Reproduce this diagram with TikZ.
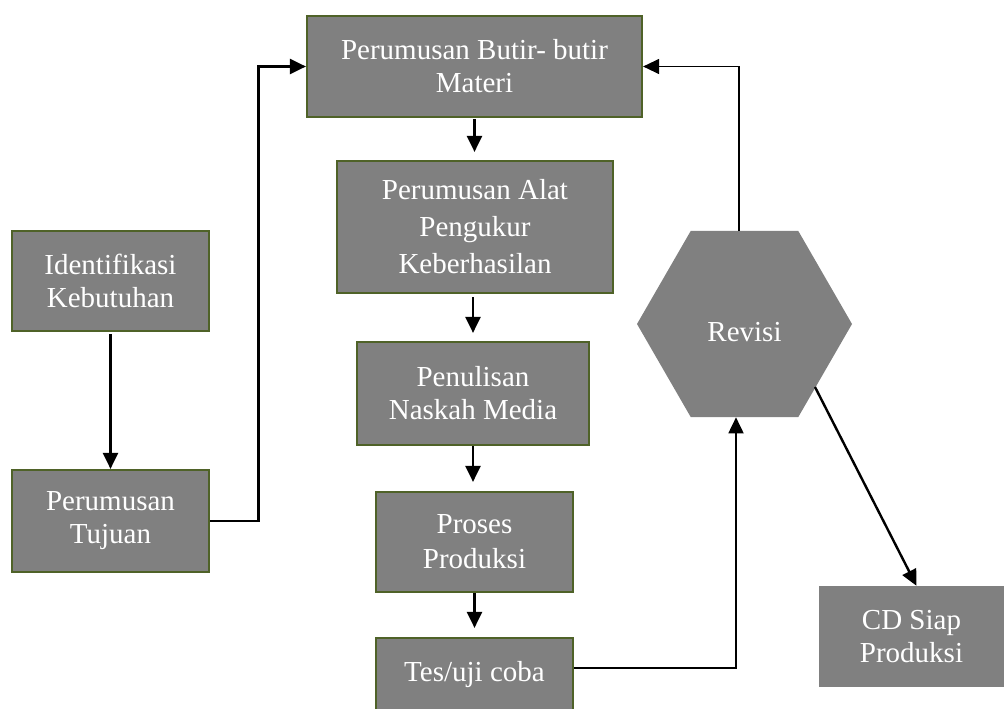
\documentclass[tikz,border=0pt]{standalone}
\usepackage{fontspec}
\setmainfont{Liberation Serif}
\usetikzlibrary{arrows.meta,shapes.geometric,calc}
\definecolor{boxfill}{HTML}{808080}
\definecolor{boxedge}{HTML}{4F6228}
\begin{document}
\begin{tikzpicture}[x=1pt,y=-1pt,
  box/.style={draw=boxedge, line width=2.2pt, fill=boxfill, text=white, align=center,
    inner sep=0pt, font=\fontsize{29}{33}\selectfont},
  plainbox/.style={fill=boxfill, text=white, align=center, inner sep=0pt,
    font=\fontsize{29}{33}\selectfont},
  hexa/.style={regular polygon, regular polygon sides=6, fill=boxfill, inner sep=0pt,
    minimum size=215pt},
  arr/.style={line width=2.4pt, -{Triangle[length=16pt,width=15pt]}},
  thinarr/.style={line width=1.3pt, -{Triangle[length=16pt,width=15pt]}},
  midarr/.style={line width=1.8pt, -{Triangle[length=16pt,width=15pt]}}
]
\useasboundingbox (0,0) rectangle (1004,709);
\begin{scope}
\clip (0,0) rectangle (1004,709);
\node[box, minimum width=197pt, minimum height=100pt] (ident) at (110.5,281) {Identifikasi\\Kebutuhan};
\node[box, minimum width=197pt, minimum height=102pt] (tujuan) at (110.5,521) {Perumusan\\Tujuan};
\node[box, minimum width=335pt, minimum height=101pt] (butir) at (474.5,66.5) {Perumusan Butir- butir\\Materi};
\node[box, minimum width=276pt, minimum height=132pt, font=\fontsize{29}{37}\selectfont] (alat) at (475,227) {Perumusan Alat\\Pengukur\\Keberhasilan};
\node[box, minimum width=232pt, minimum height=103pt] (naskah) at (473,393.5) {Penulisan\\Naskah Media};
\node[box, minimum width=197pt, minimum height=100pt, font=\fontsize{29}{35}\selectfont] (proses) at (474.5,542) {Proses\\Produksi};
\node[box, minimum width=197pt, minimum height=74pt] (tes) at (474.5,675) {Tes/uji coba};
\node[hexa, label={[text=white, font=\fontsize{29}{33}\selectfont, yshift=-8pt]center:Revisi}] (rev) at (744.5,324) {};
\node[plainbox, minimum width=185pt, minimum height=101pt] (cd) at (911.5,636.5) {CD Siap\\Produksi};

\coordinate (c1) at (258.5,293);
\coordinate (c2) at (736,668);
\coordinate (c3) at (739,66.5);
\coordinate (c4) at (815,387);

\draw[arr, shorten <=2pt] (ident.south) -- (tujuan.north);
\draw[arr] (tujuan.east) -| (c1) |- (butir.west);
\draw[arr, shorten <=1pt, shorten >=8pt] (butir.south) -- (butir.south |- alat.north);
\draw[arr, shorten <=3pt, shorten >=8pt] (alat.south -| naskah.south) -- (naskah.north);
\draw[arr, shorten >=9pt] (naskah.south) -- (naskah.south |- proses.north);
\draw[arr, shorten >=9pt] (proses.south) -- (proses.north |- tes.north);
\draw[midarr] (tes.east |- c2) -- (c2) -- (c2 |- rev.south);
\draw[thinarr] (c3 |- rev.north) -- (c3) -- (butir.east);
\draw[arr] (c4) -- ($(cd.north)+(5,0)$);
\end{scope}
\end{tikzpicture}
\end{document}
